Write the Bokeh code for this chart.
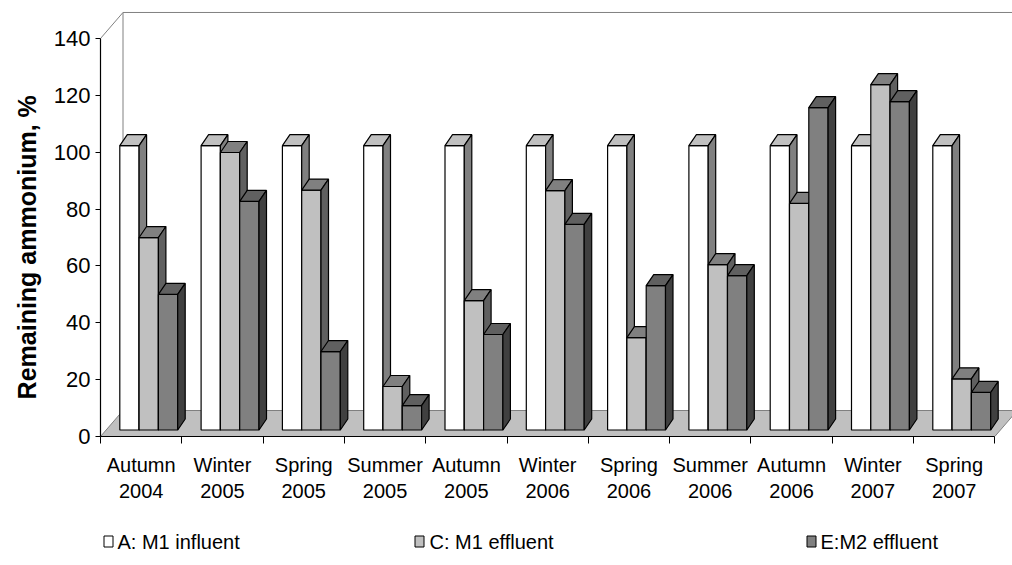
from bokeh.plotting import figure
from bokeh.layouts import column
from bokeh.models import Range1d, FixedTicker
from bokeh.core.properties import value
from bokeh.embed import file_html
from bokeh.resources import INLINE

# ---------------- data ----------------
categories = ["Autumn\n2004", "Winter\n2005", "Spring\n2005", "Summer\n2005",
              "Autumn\n2005", "Winter\n2006", "Spring\n2006", "Summer\n2006",
              "Autumn\n2006", "Winter\n2007", "Spring\n2007"]
influent = [100, 100, 100, 100, 100, 100, 100, 100, 100, 100, 100]
m1_effluent = [67.7, 97.6, 84.4, 15.3, 45.5, 84.2, 32.5, 58.2, 79.7, 121.5, 18.0]
m2_effluent = [47.7, 80.4, 27.6, 8.6, 33.6, 72.3, 50.8, 54.3, 113.4, 115.5, 13.2]
series_labels = ["A: M1 influent", "C: M1 effluent", "E:M2 effluent"]
y_ticks = [0, 20, 40, 60, 80, 100, 120, 140]

# ---------------- geometry / style ----------------
W, H = 1012, 565
MAIN_H = 520
LEG_H = H - MAIN_H
L_PX, B_PX, T_PX = 100, 436, 9
PX_X = 81.3          # pixels per category
PX_Y = 2.843         # pixels per value unit
n = len(categories)
x_start = -0.5
x_end = x_start + (W - L_PX) / PX_X
y_end = (B_PX - T_PX) / PX_Y

FONT = "Liberation Sans"

p = figure(width=W, height=MAIN_H, output_backend="svg", toolbar_location=None,
           x_range=Range1d(x_start, x_end), y_range=Range1d(0, y_end),
           min_border_left=L_PX, min_border_right=0, min_border_top=T_PX,
           min_border_bottom=MAIN_H - B_PX)
p.outline_line_color = None
p.xgrid.visible = False
p.ygrid.visible = False
p.background_fill_color = "white"
p.border_fill_color = "white"

# 3D wall / floor depth
wdx = 22.5 / PX_X
wdy = 26.0 / PX_Y
y_top = y_ticks[-1]
x_last = n - 0.5

# floor
p.patch([x_start, x_last, x_last + wdx, x_start + wdx], [0, 0, wdy, wdy],
        fill_color="#c0c0c0", line_color="#808080", line_width=1)
# walls outline
p.line([x_start, x_start + wdx, x_end + 1], [y_top, y_top + wdy, y_top + wdy],
       line_color="#808080", line_width=1)
p.line([x_start + wdx, x_start + wdx], [wdy, y_top + wdy],
       line_color="#808080", line_width=1)

# bars
bw = 19.3 / PX_X
g0 = -0.5 + 19.3 / PX_X
fy = 6.5 / PX_Y
bdx = 7.5 / PX_X
bdy = 11.0 / PX_Y
fronts = ["#ffffff", "#c0c0c0", "#808080"]
tops = ["#c0c0c0", "#808080", "#606060"]
sides = ["#808080", "#606060", "#404040"]
series = [influent, m1_effluent, m2_effluent]

for k, vals in enumerate(series):
    lefts = [i + g0 + k * bw for i in range(n)]
    rights = [l + bw for l in lefts]
    tops_v = [fy + v for v in vals]
    p.quad(left=lefts, right=rights, bottom=fy, top=tops_v,
           fill_color=fronts[k], line_color="black", line_width=1.2)
    top_xs = [[l, rr, rr + bdx, l + bdx] for l, rr in zip(lefts, rights)]
    top_ys = [[t, t, t + bdy, t + bdy] for t in tops_v]
    p.patches(top_xs, top_ys, fill_color=tops[k], line_color="black", line_width=1.2)
    side_xs = [[rr, rr + bdx, rr + bdx, rr] for rr in rights]
    side_ys = [[fy, fy + bdy, t + bdy, t] for t in tops_v]
    p.patches(side_xs, side_ys, fill_color=sides[k], line_color="black", line_width=1.2)

# x axis
xa = p.xaxis[0]
xa.ticker = FixedTicker(ticks=list(range(n)),
                        minor_ticks=[i - 0.5 for i in range(n + 1)])
xa.major_label_overrides = {i: categories[i] for i in range(n)}
xa.bounds = (x_start, x_last)
xa.major_tick_line_color = None
xa.minor_tick_out = 7
xa.minor_tick_in = 0
xa.minor_tick_line_color = "black"
xa.axis_line_color = "black"
xa.axis_line_width = 1.2
xa.major_label_text_font = FONT
xa.major_label_text_font_size = "20px"
xa.major_label_text_color = "black"
xa.major_label_standoff = 10

# y axis
ya = p.yaxis[0]
ya.ticker = FixedTicker(ticks=y_ticks)
ya.bounds = (0, y_top)
ya.major_tick_out = 5
ya.major_tick_in = 0
ya.minor_tick_line_color = None
ya.axis_line_color = "black"
ya.axis_line_width = 1.2
ya.major_label_text_font = FONT
ya.major_label_text_font_size = "22px"
ya.major_label_text_color = "black"
ya.major_label_standoff = 5
ya.axis_label = "Remaining ammonium, %" + "\u00a0" * 7
ya.axis_label_text_font = FONT
ya.axis_label_text_font_style = "bold"
ya.axis_label_text_font_size = "25px"
ya.axis_label_text_color = "black"
ya.axis_label_standoff = 10

# ---------------- legend strip ----------------
# the column layout aligns this strip's frame with the main frame (starts at L_PX)
q = figure(width=W, height=LEG_H, output_backend="svg", toolbar_location=None,
           x_range=Range1d(L_PX, W), y_range=Range1d(0, LEG_H),
           x_axis_type=None, y_axis_type=None,
           min_border_left=L_PX, min_border_right=0,
           min_border_top=0, min_border_bottom=0)
q.outline_line_color = None
q.xgrid.visible = False
q.ygrid.visible = False
q.background_fill_color = "white"
q.border_fill_color = "white"

leg_sq_x = [108, 419, 811]
leg_txt_x = [117, 429, 820]
leg_y = LEG_H - 21
q.rect(x=leg_sq_x, y=[leg_y] * 3, width=9, height=11,
       fill_color=fronts, line_color="black", line_width=1)
q.text(x=leg_txt_x, y=[leg_y] * 3, text=series_labels,
       text_font=value(FONT), text_font_size="20px", text_color="black",
       text_baseline="middle", text_align="left")

layout = column(p, q, spacing=0)
open("out.html", "w").write(file_html(layout, INLINE))
